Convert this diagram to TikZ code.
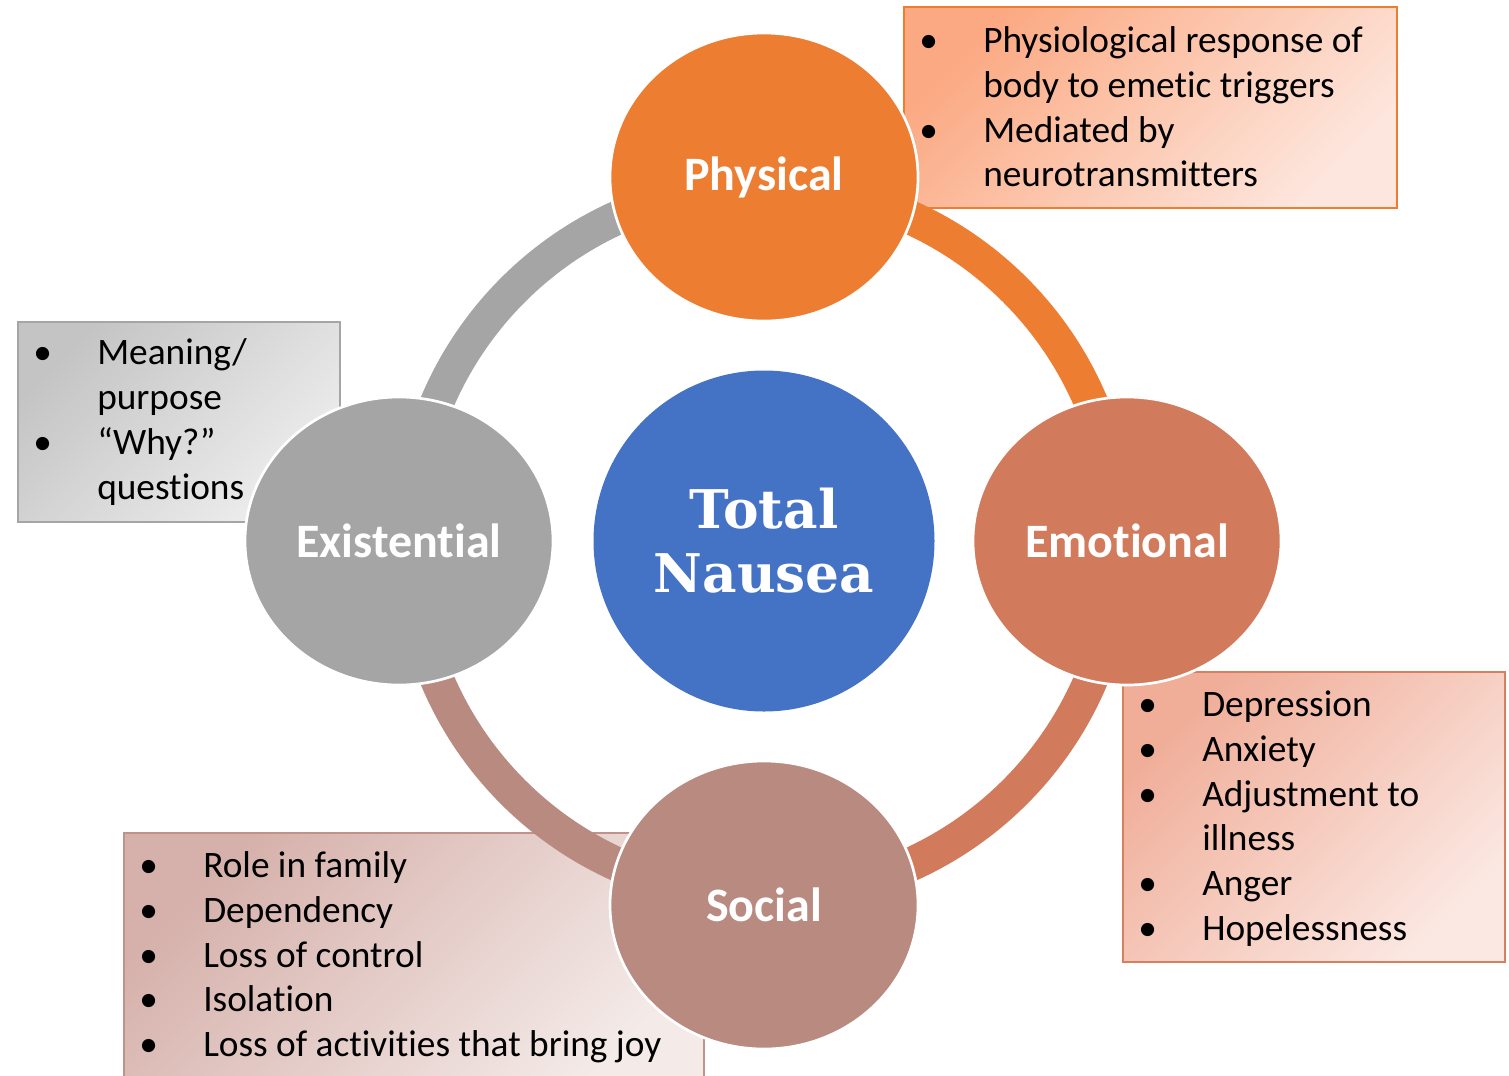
\documentclass[tikz,border=0pt]{standalone}
\usepackage{fontspec}
\setmainfont{Carlito}[Ligatures=NoCommon]
\newfontfamily\slabfont{DejaVu Serif}
\usetikzlibrary{shapes.geometric}

\definecolor{physC}{HTML}{ED7D31}
\definecolor{emoC}{HTML}{D17B5C}
\definecolor{socC}{HTML}{B98A80}
\definecolor{exiC}{HTML}{A5A5A5}
\definecolor{totC}{HTML}{4472C4}
\definecolor{physTop}{HTML}{FBA982}
\definecolor{physBot}{HTML}{FDE6DD}
\definecolor{exiTop}{HTML}{C4C4C4}
\definecolor{exiBot}{HTML}{EEEEEE}
\definecolor{emoTop}{HTML}{F0AD98}
\definecolor{emoBot}{HTML}{FBE8E2}
\definecolor{emoLine}{HTML}{D7805F}
\definecolor{socTop}{HTML}{D6B0AA}
\definecolor{socBot}{HTML}{F4EBE9}
\definecolor{socLine}{HTML}{BF928A}

% bullet followed by the hanging indent of the list text
\newcommand{\itembul}{\makebox[48pt][l]{•}}

\begin{document}
\begin{tikzpicture}[x=0.75pt,y=-0.75pt,
  bubble/.style={ellipse, draw=white, line width=2pt, minimum width=231pt,
    minimum height=216pt, inner sep=0pt, text=white,
    font=\fontsize{36}{40}\selectfont\bfseries},
  listbox/.style={rectangle, anchor=north west, inner sep=0pt, line width=1.2pt},
  ring/.style={line width=25.5pt},
  item/.style={inner sep=0pt, anchor=base west, text=black,
    font=\fontsize{28}{33.75}\selectfont}
]
\useasboundingbox (0,0) rectangle (1509,1075);
\fill[white] (0,0) rectangle (1509,1075);

% side panels, shaded from the upper left corner
\node[listbox, draw=physC, top color=physTop, bottom color=physBot, shading angle=45,
  minimum width=369.75pt, minimum height=150.75pt] (pbox) at (903,6) {};
\node[listbox, draw=exiC, top color=exiTop, bottom color=exiBot, shading angle=45,
  minimum width=241.5pt, minimum height=150pt] (xbox) at (17,321) {};
\node[listbox, draw=emoLine, top color=emoTop, bottom color=emoBot, shading angle=45,
  minimum width=286.5pt, minimum height=217.5pt] (ebox) at (1122,671) {};
\node[listbox, draw=socLine, top color=socTop, bottom color=socBot, shading angle=45,
  minimum width=435pt, minimum height=195pt] (sbox) at (123,832) {};

% centre and the ring through the four aspects
\node[circle, fill=totC, minimum size=255.75pt, inner sep=0pt, text=white,
  align=center, font=\fontsize{40}{48}\selectfont\slabfont\bfseries] (tn) at (764,541)
  {Total\\Nausea};

\draw[ring, exiC] (tn.center) ++(180:266.25pt) arc[start angle=180, end angle=90, radius=266.25pt];
\draw[ring, physC] (tn.center) ++(90:266.25pt) arc[start angle=90, end angle=0, radius=266.25pt];
\draw[ring, emoC] (tn.center) ++(0:266.25pt) arc[start angle=0, end angle=-90, radius=266.25pt];
\draw[ring, socC] (tn.center) ++(-90:266.25pt) arc[start angle=-90, end angle=-180, radius=266.25pt];

\node[bubble, fill=physC] (phys) at (764,177) {Physical};
\node[bubble, fill=emoC] (emo) at (1127,541) {Emotional};
\node[bubble, fill=socC] (soc) at (764,905) {Social};
\node[bubble, fill=exiC] (exi) at (399,541) {Existential};

% physical
\node[item] (p1) at (919,52) {\itembul Physiological response of};
\node[item] (p2) at (983,97) {body to emetic triggers};
\node[item] (p3) at (919,142) {\itembul Mediated by};
\node[item] (p4) at (983,186) {neurotransmitters};

% existential
\node[item] (x1) at (33,364) {\itembul Meaning/};
\node[item] (x2) at (97,409) {purpose};
\node[item] (x3) at (33,454) {\itembul “Why?”};
\node[item] (x4) at (97,499) {questions};

% emotional
\node[item] (e1) at (1138,716) {\itembul Depression};
\node[item] (e2) at (1138,761) {\itembul Anxiety};
\node[item] (e3) at (1138,806) {\itembul Adjustment to};
\node[item] (e4) at (1202,850) {illness};
\node[item] (e5) at (1138,895) {\itembul Anger};
\node[item] (e6) at (1138,940) {\itembul Hopelessness};

% social
\node[item] (s1) at (139,877) {\itembul Role in family};
\node[item] (s2) at (139,922) {\itembul Dependency};
\node[item] (s3) at (139,967) {\itembul Loss of control};
\node[item] (s4) at (139,1011) {\itembul Isolation};
\node[item] (s5) at (139,1056) {\itembul Loss of activities that bring joy};
\end{tikzpicture}
\end{document}
